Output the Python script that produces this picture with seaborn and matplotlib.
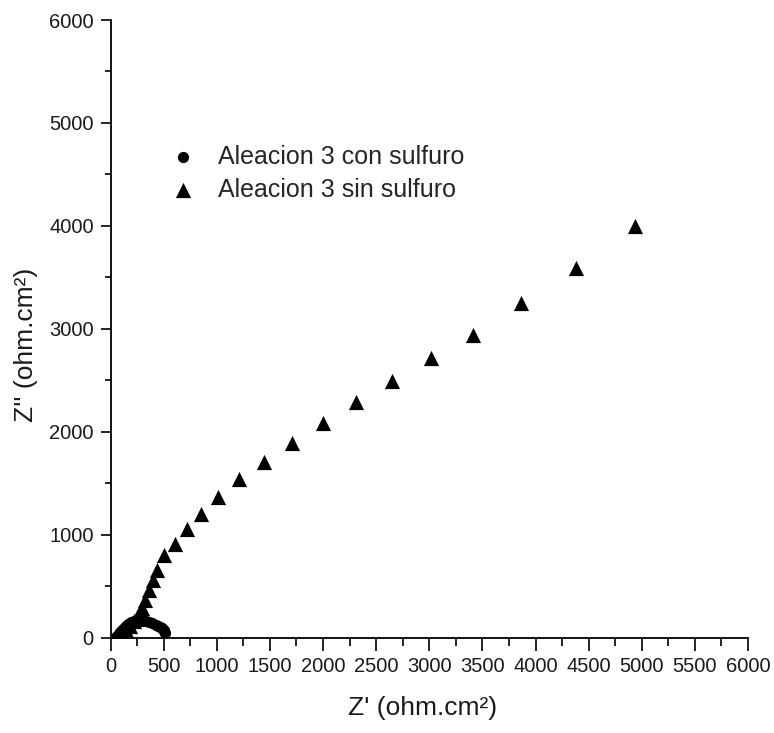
import matplotlib
matplotlib.use("Agg")
import matplotlib.pyplot as plt
import seaborn as sns
import pandas as pd
from matplotlib.ticker import MultipleLocator

# Data
con_x = [55, 65, 78, 92, 108, 125, 145, 168, 192, 218, 246, 275, 305, 335, 365, 395, 425,
         450, 470, 488, 500, 508, 512]
con_y = [5, 18, 35, 55, 75, 95, 115, 132, 146, 156, 162, 164, 162, 156, 148, 138, 126,
         114, 102, 90, 76, 62, 48]

sin_x = [40, 70, 105, 145, 185, 222, 260, 294, 325, 365, 403, 440, 500, 611, 720, 849,
         1008, 1206, 1447, 1709, 1996, 2309, 2648, 3012, 3413, 3868, 4379, 4941]
sin_y = [8, 22, 45, 75, 113, 161, 220, 289, 367, 465, 562, 660, 797, 910, 1052, 1202,
         1362, 1541, 1710, 1888, 2086, 2291, 2493, 2715, 2943, 3247, 3595, 3994]

labels = ["Aleacion 3 con sulfuro", "Aleacion 3 sin sulfuro"]
x_label = "Z' (ohm.cm²)"
y_label = "Z'' (ohm.cm²)"

df_con = pd.DataFrame({"x": con_x, "y": con_y})
df_sin = pd.DataFrame({"x": sin_x, "y": sin_y})

sns.set_theme(style="ticks")
plt.rcParams["font.family"] = ["Liberation Sans", "DejaVu Sans"]

W, H = 774, 733
fig = plt.figure(figsize=(W / 100, H / 100), dpi=100)
x0, x1, y0, y1 = 110.5, 748, 637.5, 20
ax = fig.add_axes([x0 / W, 1 - y0 / H, (x1 - x0) / W, (y0 - y1) / H])

sns.scatterplot(data=df_con, x="x", y="y", marker="o", color="black", s=65,
                linewidth=0, label=labels[0], ax=ax, zorder=3)
sns.scatterplot(data=df_sin, x="x", y="y", marker="^", color="black", s=120,
                linewidth=0, label=labels[1], ax=ax, zorder=4)

ax.set_xlim(0, 6000)
ax.set_ylim(0, 6000)
ax.xaxis.set_major_locator(MultipleLocator(500))
ax.xaxis.set_minor_locator(MultipleLocator(250))
ax.yaxis.set_major_locator(MultipleLocator(1000))
ax.yaxis.set_minor_locator(MultipleLocator(500))
ax.tick_params(which="both", direction="out", width=1.2, colors="black", labelsize=14.5)
ax.tick_params(axis="x", which="major", length=9, pad=5)
ax.tick_params(axis="x", which="minor", length=5.5)
ax.tick_params(axis="y", which="major", length=7, pad=5)
ax.tick_params(axis="y", which="minor", length=4)
for lab in ax.get_xticklabels() + ax.get_yticklabels():
    lab.set_color("#1a1a1a")

for side in ["top", "right"]:
    ax.spines[side].set_visible(False)
for side in ["left", "bottom"]:
    ax.spines[side].set_linewidth(1.3)
    ax.spines[side].set_color("black")

ax.set_xlabel(x_label, fontsize=19, color="#1a1a1a")
ax.set_ylabel(y_label, fontsize=19, color="#1a1a1a")
ax.xaxis.set_label_coords((423 - x0) / (x1 - x0), -(708 - y0) / (y0 - y1), transform=ax.transAxes)
ax.yaxis.set_label_coords(-(x0 - 26) / (x1 - x0), (y0 - 345) / (y0 - y1), transform=ax.transAxes)
ax.xaxis.label.set_va("center")
ax.yaxis.label.set_va("center")

ax.legend(loc="upper left", bbox_to_anchor=(158 / W, 1 - 145 / H),
          bbox_transform=fig.transFigure, frameon=False,
          fontsize=18, handlelength=2.0, handletextpad=0.42, labelspacing=0.35,
          borderaxespad=0, borderpad=0, markerscale=1.0)

fig.savefig("out.png", dpi=100)
